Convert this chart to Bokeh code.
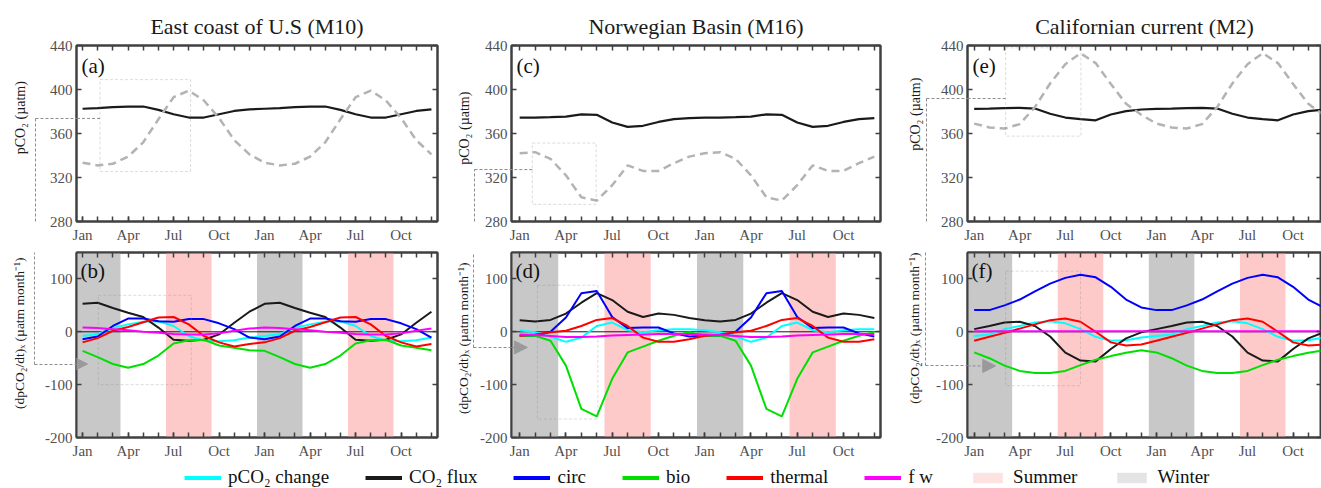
from bokeh.plotting import figure
from bokeh.layouts import row, column
from bokeh.models import (FixedTicker, LinearAxis, Range1d, BoxAnnotation, Arrow,
                          NormalHead, Label, Legend, LegendItem, Span)
from bokeh.embed import file_html
from bokeh.resources import INLINE

# ---------------- data ----------------
months = list(range(1, 25))
tick_months = [1, 4, 7, 10, 13, 16, 19, 22]
tick_names = ["Jan", "Apr", "Jul", "Oct", "Jan", "Apr", "Jul", "Oct"]
ticks_top = [280, 320, 360, 400, 440]
ticks_bot = [-200, -100, 0, 100]

titles = ["East coast of U.S (M10)", "Norwegian Basin (M16)", "Californian current (M2)"]
letters_top = ["(a)", "(c)", "(e)"]
letters_bot = ["(b)", "(d)", "(f)"]
ylabel_top = "pCO\u2082 (\u00b5atm)"
ylabel_bot = "(dpCO\u2082/dt)\u2093 (\u00b5atm month\u207b\u00b9)"

winter_start = [0.5, 12.5]
winter_end = [3.5, 15.5]
summer_start = [6.5, 18.5]
summer_end = [9.5, 21.5]

# monthly climatology Jan..Dec (the figure shows it over two years)
m10_atm = [382.5, 383, 384, 384.5, 384.5, 381.5, 377.5, 374.5, 374.5, 377.5, 380.5, 382]
m10_sea = [333.5, 331, 332.5, 339, 352, 373, 393, 399, 390, 374, 354, 341]
m10_chg = [-8, -4, 7, 14, 19, 20, 11, -8, -17, -18, -16, -11]
m10_flux = [53, 55, 45, 36, 28, 8, -15, -17, -15, -5, 17, 38]
m10_circ = [-14, -9, 11, 25, 25, 20, 19, 24, 24, 16, 5, -11]
m10_bio = [-36, -48, -61, -68, -61, -45, -22, -16, -15, -26, -30, -35]
m10_therm = [-20, -12, 2, 9, 18, 27, 28, 14, -8, -20, -28, -23]
m10_fw = [8, 7, 5, 3, 0, -2, -4, -5, -5, -3, 2, 6]

m16_atm = [374.5, 374.5, 374.8, 375.3, 377.4, 377, 370, 366, 367, 370.5, 373, 374]
m16_sea = [342, 343, 337, 322, 302, 299, 313, 331, 326, 326, 333, 339]
m16_chg = [3, -1, -9, -19, -11, 11, 17.5, 3, -1, 3, 5, 5]
m16_flux = [22, 19.5, 22.5, 34.5, 55, 73, 60, 38, 28, 34.5, 32, 26]
m16_circ = [-7.5, -7.5, 0, 27, 73, 77, 28, 7, 8, 8, -3, -9]
m16_bio = [-7.5, -7.5, -17, -64, -146, -160, -89, -39, -28, -17, -7.5, -1]
m16_therm = [-7.5, -5, -1, 2, 11, 22.5, 26, 11, -11, -19, -19, -14]
m16_fw = [-5, -6, -8, -10, -10, -9, -7, -6, -5, -4, -4, -4]

m2_atm = [382.4, 382.6, 383, 383.3, 382.7, 378, 374.5, 373, 372, 377.3, 380.3, 381.8]
m2_sea = [369, 365.5, 364.5, 368.5, 384, 405.5, 423, 433, 424, 405, 387, 377]
m2_chg = [-8, -5, 5, 11, 17.5, 20, 16, 5, -9.5, -17, -16, -11]
m2_flux = [5, 11, 17.5, 19, 11, -9, -39.5, -54.5, -56, -32.5, -12.5, -1]
m2_circ = [41, 41, 50, 61, 76.5, 91, 102, 108, 103, 85, 61, 46]
m2_bio = [-39, -50, -64, -74, -78, -78, -74, -63, -53, -46, -39.5, -35]
m2_therm = [-17, -9.5, -2, 6, 14, 22, 25, 19, 0, -20, -26, -24]
m2_fw = [1, 1, 1, 1, 1, 1, 1, 1, 1, 1, 1, 1]

series_names = ["pCO\u2082 change", "CO\u2082 flux", "circ", "bio", "thermal", "f w"]
series_colors = ["#00ffff", "#1a1a1a", "#0000ff", "#00e000", "#ff0000", "#ff00ff"]

sites = [
    dict(atm=m10_atm, sea=m10_sea, terms=[m10_chg, m10_flux, m10_circ, m10_bio, m10_therm, m10_fw]),
    dict(atm=m16_atm, sea=m16_sea, terms=[m16_chg, m16_flux, m16_circ, m16_bio, m16_therm, m16_fw]),
    dict(atm=m2_atm, sea=m2_sea, terms=[m2_chg, m2_flux, m2_circ, m2_bio, m2_therm, m2_fw]),
]

# zoom boxes (data units): (left, right, bottom, top) and the dashed links between panels
zoom_top = [(2.15, 8.12, 325.4, 409), (1.82, 5.96, 295.6, 351.3), (3.07, 8.03, 357.6, 437.9)]
zoom_bot = [(2.04, 8.17, -100, 69), (2.15, 6.07, -165, 88), (3.07, 8.0, -102, 114.7)]
link_y_top = [373.7, 327.2, 391.8]
link_y_bot = [-61, -29.5, -64.6]
arrow_tip = [1.33, 1.5, 2.42]

# ---------------- layout ----------------
col_w = [452, 451, 418]
col_left = [76, 58, 62]
col_right = [15, 23, 0]
x_lims = [(0.6, 24.4), (0.47, 24.4), (0.56, 23.87)]
link_in = [42, 38, 42]                  # px from the vertical link line into the frame
pad_top = ["\u00a0" * 3, "\u00a0" * 2, "\u00a0" * 3]
pad_bot = ["\u00a0" * 2, "\u00a0", "\u00a0" * 2]
ylab_shift_top = [9, 3, 11]             # leading no-break spaces: lift the y label
ylab_shift_bot = [7, 4, 10]
ylab_standoff = [8, 3, 4]

SERIF = "Liberation Serif"
FRAME = "#404040"
TICKTXT = "#505050"
LINK = "#8c8c8c"


def no_tick_axis(minor=(), **kw):
    return LinearAxis(ticker=FixedTicker(ticks=[], minor_ticks=list(minor)), major_label_standoff=0,
                      major_tick_in=0, major_tick_out=0, minor_tick_out=0, **kw)


def style(p, yticks, pad, link_y, tick_in, link_bounds, ylabel, standoff, lab_size):
    p.xgrid.visible = False
    p.ygrid.visible = False
    xa = p.below[0]
    ya = p.left[0]
    xa.ticker = FixedTicker(ticks=tick_months, minor_ticks=months)
    xa.major_label_overrides = {m: n for m, n in zip(tick_months, tick_names)}
    ya.ticker = FixedTicker(ticks=yticks, minor_ticks=[])
    ya.major_label_overrides = {v: pad + str(v) for v in yticks}
    top_ax = LinearAxis(ticker=FixedTicker(ticks=[], minor_ticks=months), major_label_standoff=0)
    right_ax = LinearAxis(ticker=FixedTicker(ticks=[], minor_ticks=yticks), major_label_standoff=0)
    p.add_layout(top_ax, "above")
    p.add_layout(right_ax, "right")
    for ax in [xa, ya, top_ax, right_ax]:
        ax.axis_line_color = FRAME
        ax.axis_line_width = 2
        ax.major_tick_line_color = FRAME
        ax.major_tick_line_width = 1.5
        ax.minor_tick_line_color = FRAME
        ax.minor_tick_line_width = 1.5
        ax.major_tick_in = 5
        ax.major_tick_out = 0
        ax.minor_tick_in = 5
        ax.minor_tick_out = 0
    for ax, st in [(xa, 5), (ya, 4)]:
        ax.major_label_text_font = SERIF
        ax.major_label_text_font_size = "15px"
        ax.major_label_text_color = TICKTXT
        ax.major_label_standoff = st
    # dashed link: vertical line = axis line, horizontal piece = inward minor tick
    p.add_layout(no_tick_axis(minor=[link_y], bounds=link_bounds, axis_line_color=LINK,
                              axis_line_width=1, axis_line_dash="3 2", minor_tick_in=tick_in,
                              minor_tick_line_color=LINK, minor_tick_line_width=1,
                              minor_tick_line_dash="3 2"), "left")
    # y label
    p.add_layout(no_tick_axis(axis_line_alpha=0, minor_tick_in=0,
                              axis_label=ylabel, axis_label_standoff=standoff,
                              axis_label_text_font=SERIF, axis_label_text_font_style="normal",
                              axis_label_text_font_size=lab_size, axis_label_text_color="#1a1a1a"), "left")
    p.outline_line_color = FRAME
    p.outline_line_width = 2


cols = []
for i, site in enumerate(sites):
    x0 = x_lims[i][0]
    # ---- top panel: pCO2 ----
    pt = figure(width=col_w[i], height=245, x_range=Range1d(*x_lims[i]), y_range=Range1d(280, 440),
                toolbar_location=None, output_backend="svg", title=titles[i],
                min_border_left=col_left[i], min_border_right=col_right[i],
                min_border_top=45, min_border_bottom=23)
    pt.title.text_font = SERIF
    pt.title.text_font_size = "22px"
    pt.title.text_font_style = "normal"
    pt.title.align = "center"
    pt.title.text_color = "#1a1a1a"
    pt.title.standoff = 14
    style(pt, ticks_top, pad_top[i], link_y_top[i], link_in[i], (250, link_y_top[i]),
          "\u00a0" * ylab_shift_top[i] + ylabel_top, ylab_standoff[i], "14px")
    pt.line(months, site["atm"] + site["atm"], line_color="#1a1a1a", line_width=2.2)
    pt.line(months, site["sea"] + site["sea"], line_color="#b3b3b3", line_width=2.5, line_dash="8 5")
    pt.add_layout(Label(x=x0, y=440, x_offset=5, y_offset=-8, text=letters_top[i],
                        text_baseline="top", text_font=SERIF, text_font_size="21px", text_color="#111111"))
    l, r, b, t = zoom_top[i]
    pt.add_layout(BoxAnnotation(left=l, right=r, bottom=b, top=t, fill_alpha=0,
                                line_color=LINK, line_width=1, line_dash="3 2"))
    pt.add_layout(Arrow(x_start=l, y_start=link_y_top[i], x_end=x0, y_end=link_y_top[i], end=None,
                        line_color=LINK, line_width=1, line_dash="3 2"))

    # ---- bottom panel: tendencies ----
    pb = figure(width=col_w[i], height=217, x_range=Range1d(*x_lims[i]), y_range=Range1d(-200, 150),
                toolbar_location=None, output_backend="svg",
                min_border_left=col_left[i], min_border_right=col_right[i],
                min_border_top=7, min_border_bottom=25)
    style(pb, ticks_bot, pad_bot[i], link_y_bot[i], link_in[i], (link_y_bot[i], 175),
          "\u00a0" * ylab_shift_bot[i] + ylabel_bot, ylab_standoff[i], "13.5px")
    for s0, s1 in zip(winter_start, winter_end):
        pb.add_layout(BoxAnnotation(left=s0, right=s1, fill_color="#c8c8c8", fill_alpha=1,
                                    line_alpha=0, level="underlay"))
    for s0, s1 in zip(summer_start, summer_end):
        pb.add_layout(BoxAnnotation(left=s0, right=s1, fill_color="#fdc9c9", fill_alpha=1,
                                    line_alpha=0, level="underlay"))
    pb.add_layout(Span(location=0, dimension="width", line_color="#1a1a1a", line_width=1, level="underlay"))
    for vals, c in zip(site["terms"], series_colors):
        pb.line(months, vals + vals, line_color=c, line_width=2)
    pb.add_layout(Label(x=x0, y=150, x_offset=4, y_offset=-6, text=letters_bot[i],
                        text_baseline="top", text_font=SERIF, text_font_size="21px", text_color="#111111"))
    l, r, b, t = zoom_bot[i]
    pb.add_layout(BoxAnnotation(left=l, right=r, bottom=b, top=t, fill_alpha=0,
                                line_color=LINK, line_width=1, line_dash="3 2"))
    pb.add_layout(Arrow(x_start=x0, y_start=link_y_bot[i], x_end=arrow_tip[i], y_end=link_y_bot[i],
                        end=NormalHead(size=13, fill_color="#9a9a9a", line_color="#9a9a9a", line_width=1),
                        line_color=LINK, line_width=1, line_dash="3 2"))
    cols.append(column(pt, pb))

# ---------------- legend strip ----------------
lp = figure(width=1321, height=26, x_range=Range1d(0, 1), y_range=Range1d(0, 1),
            toolbar_location=None, output_backend="svg", x_axis_type=None, y_axis_type=None,
            min_border=0, outline_line_color=None)
lp.xgrid.visible = False
lp.ygrid.visible = False
items = []
for name, c in zip(series_names, series_colors):
    r = lp.line(x=[-5, -4], y=[-5, -5], line_color=c, line_width=4)
    items.append(LegendItem(label=name, renderers=[r]))
rs = lp.quad(left=[-5], right=[-4], top=[-4], bottom=[-5], fill_color="#fde2e2", line_color=None)
rw = lp.quad(left=[-5], right=[-4], top=[-4], bottom=[-5], fill_color="#e4e4e4", line_color=None)
items.append(LegendItem(label="Summer", renderers=[rs]))
items.append(LegendItem(label="Winter", renderers=[rw]))
leg = Legend(items=items, orientation="horizontal", location=(184, 0), glyph_width=37,
             glyph_height=13, label_standoff=7, spacing=36, padding=0, margin=0,
             label_text_font=SERIF, label_text_font_size="19px", label_text_color="#111111",
             label_height=20, border_line_alpha=0, background_fill_alpha=0)
lp.add_layout(leg)

layout = column(row(*cols), lp)
open("out.html", "w").write(file_html(layout, INLINE))
